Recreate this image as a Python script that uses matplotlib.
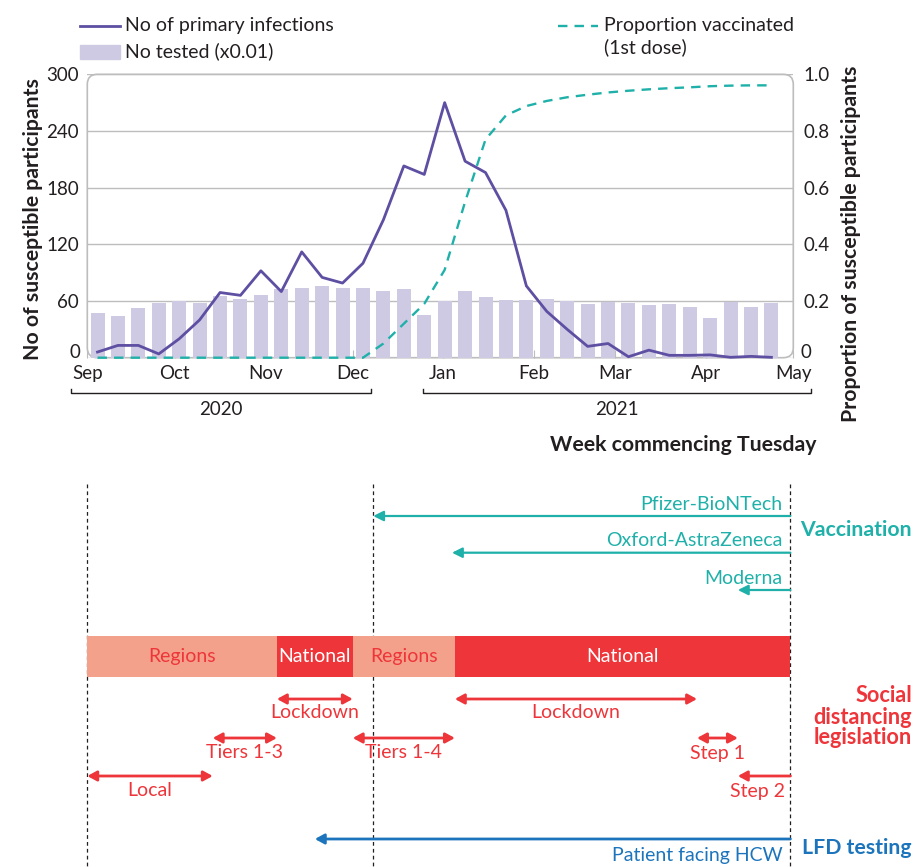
import numpy as np
import pandas as pd
import matplotlib
matplotlib.use('Agg')
import matplotlib.pyplot as plt
import matplotlib.dates as mdates
import matplotlib.transforms as mtransforms
from matplotlib.patches import FancyBboxPatch, Rectangle
from matplotlib.lines import Line2D

plt.rcParams['font.family'] = ['Lato', 'DejaVu Sans']

# ---------------- data ----------------
week_start = pd.date_range('2020-09-01', periods=34, freq='7D')   # weeks commencing Tuesday
no_tested_x001 = [47, 44, 53, 58, 60, 58, 65, 62, 66, 73, 74, 76, 74, 74, 71, 73, 45,
                  60, 71, 64, 61, 61, 62, 60, 57, 59, 58, 56, 57, 54, 42, 59, 54, 58]
primary_infections = [6, 13, 13, 4, 20, 40, 69, 66, 92, 70, 112, 85, 79, 100, 146, 203, 194,
                      270, 208, 196, 156, 76, 49, 30, 12, 15, 1, 8, 2.5, 2.5, 3, 0.4, 1.4, 0.4]
prop_vaccinated = [0, 0, 0, 0, 0, 0, 0, 0, 0, 0, 0, 0, 0,
                   0, 0.05, 0.12, 0.19, 0.31, 0.55, 0.77, 0.855, 0.888, 0.906, 0.919,
                   0.928, 0.936, 0.942, 0.947, 0.951, 0.954, 0.958, 0.96, 0.961, 0.961]

month_ticks = ['2020-09-01', '2020-10-01', '2020-11-01', '2020-12-01', '2021-01-01',
               '2021-02-01', '2021-03-01', '2021-04-01', '2021-05-01']
month_labels = ['Sep', 'Oct', 'Nov', 'Dec', 'Jan', 'Feb', 'Mar', 'Apr', 'May']
left_ticks = [0, 60, 120, 180, 240, 300]
right_ticks = [0, 0.2, 0.4, 0.6, 0.8, 1.0]
right_labels = ['0', '0.2', '0.4', '0.6', '0.8', '1.0']
year_labels = ['2020', '2021']

study_start = '2020-09-01'
first_vaccine = '2020-12-08'
study_end = '2021-04-30'

vacc_names = ['Pfizer-BioNTech', 'Oxford-AstraZeneca', 'Moderna']
vacc_start = ['2020-12-08', '2021-01-04', '2021-04-12']

band_labels = ['Regions', 'National', 'Regions', 'National']
band_start = ['2020-09-01', '2020-11-05', '2020-12-01', '2021-01-05']
band_end = ['2020-11-05', '2020-12-01', '2021-01-05', '2021-04-30']

sd_labels = ['Lockdown', 'Lockdown', 'Tiers 1-3', 'Tiers 1-4', 'Step 1', 'Local', 'Step 2']
sd_start = ['2020-11-05', '2021-01-05', '2020-10-14', '2020-12-01', '2021-03-29', '2020-09-01', '2021-04-12']
sd_end = ['2020-12-01', '2021-03-29', '2020-11-05', '2021-01-05', '2021-04-12', '2020-10-14', '2021-04-30']
sd_row = [0, 0, 1, 1, 1, 2, 2]

lfd_label = 'Patient facing HCW'
lfd_start = '2020-11-18'

# ---------------- styles / layout ----------------
W, H = 914, 867
PURPLE = '#5E4FA2'
LAV = '#CECAE4'
TEAL = '#1FB1A9'
RED = '#EE353A'
SALMON = '#F4A18B'
BLUE = '#1C75BC'
GRID = '#BDBDBD'
TXT = '#231F20'
FS = 14        # regular text
FT = 13.5      # tick labels
FB = 15.3      # bold titles


def fx(p):
    return p / W


def fy(p):
    return 1 - p / H


num = mdates.date2num
def d(s):
    return num(pd.Timestamp(s))

fig = plt.figure(figsize=(W / 100, H / 100), dpi=100)

L, R, T, B = 87.3, 793.3, 74.3, 357.7
ax = fig.add_axes([fx(L), fy(B), (R - L) / W, (B - T) / H])
xc = num(week_start) + 3.5
ax.bar(xc, no_tested_x001, width=4.8, color=LAV, zorder=2)
ax.plot(xc, primary_infections, color=PURPLE, lw=2.0, zorder=4, clip_on=False)
ax.set_xlim(d('2020-09-01'), d('2021-05-01'))
ax.set_ylim(0, 300)
for s in ax.spines.values():
    s.set_visible(False)
ax.set_yticks(left_ticks)
ax.set_yticklabels(['' if v == 0 else str(v) for v in left_ticks])
ax.tick_params(axis='y', length=0, pad=6, labelsize=FT, labelcolor=TXT)
ax.set_xticks([d(m) for m in month_ticks])
ax.set_xticklabels(month_labels)
ax.tick_params(axis='x', direction='in', length=6, color=GRID, pad=5, labelsize=FT, labelcolor=TXT)
ax.grid(axis='y', color=GRID, lw=1)
ax.set_axisbelow(True)

# rounded frame (under the data)
frame = FancyBboxPatch((fx(L), fy(B)), (R - L) / W, (B - T) / H,
                       boxstyle='round,pad=0,rounding_size=%f' % (10 / W),
                       mutation_aspect=W / H, transform=fig.transFigure,
                       ec=GRID, fc='none', lw=1.2, zorder=1.5, clip_on=False)
ax.add_artist(frame)

ax2 = ax.twinx()
ax2.plot(xc, prop_vaccinated, color=TEAL, lw=1.7, dashes=(4, 3), zorder=3, clip_on=False)
ax2.set_ylim(0, 1)
for s in ax2.spines.values():
    s.set_visible(False)
ax2.set_yticks(right_ticks)
ax2.set_yticklabels(['' if v == '0' else v for v in right_labels])
ax2.tick_params(axis='y', length=0, pad=7, labelsize=FT, labelcolor=TXT)

# the two zero labels sit slightly higher in the original
fig.text(fx(80.5), fy(353), '0', ha='right', va='center', fontsize=FT, color=TXT)
fig.text(fx(800.5), fy(352.5), '0', ha='left', va='center', fontsize=FT, color=TXT)

# axis titles
fig.text(fx(33), fy(219), 'No of susceptible participants', rotation=90, ha='center', va='center',
         fontsize=FB, fontweight='bold', color=TXT)
fig.text(fx(851), fy(244), 'Proportion of susceptible participants', rotation=90, ha='center',
         va='center', fontsize=FB, fontweight='bold', color=TXT)

# legend
fig.add_artist(Line2D([fx(80), fx(120)], [fy(26), fy(26)], color=PURPLE, lw=2, transform=fig.transFigure))
fig.add_artist(Rectangle((fx(80), fy(59)), 40 / W, 14 / H, color=LAV, transform=fig.transFigure))
fig.text(fx(125), fy(26), 'No of primary infections', va='center', ha='left', fontsize=FS, color=TXT)
fig.text(fx(125), fy(51), 'No tested (x0.01)', va='center', ha='left', fontsize=FS, color=TXT)
fig.add_artist(Line2D([fx(558), fx(598)], [fy(26), fy(26)], color=TEAL, lw=1.7, dashes=(4, 3),
                      transform=fig.transFigure))
fig.text(fx(604), fy(26), 'Proportion vaccinated', va='center', ha='left', fontsize=FS, color=TXT)
fig.text(fx(604), fy(47), '(1st dose)', va='center', ha='left', fontsize=FS, color=TXT)

# year brackets
for (x0, x1, xt), lab in zip([(71, 371, 221), (423, 811, 617)], year_labels):
    fig.add_artist(Line2D([fx(x0), fx(x0), fx(x1), fx(x1)], [fy(389), fy(393), fy(393), fy(389)],
                          color=TXT, lw=1, transform=fig.transFigure))
    fig.text(fx(xt), fy(409), lab, ha='center', va='center', fontsize=FT, color=TXT)
fig.text(fx(816), fy(445), 'Week commencing Tuesday', ha='right', va='center', fontsize=FB,
         fontweight='bold', color=TXT)

# ---------------- bottom timeline ----------------
axb = fig.add_axes([fx(L), 0, (R - L) / W, 387 / H])
axb.set_xlim(d('2020-09-01'), d('2021-05-01'))
axb.set_ylim(867, 480)
axb.axis('off')

axb.vlines([d(study_start), d(first_vaccine), d(study_end)], 484, 867, colors=TXT, lw=0.9,
           linestyles=(0, (3, 2.5)), zorder=1, clip_on=False)

right_lab = mtransforms.blended_transform_factory(fig.transFigure, axb.transData)
left_off = mtransforms.offset_copy(axb.transData, fig=fig, x=-8, y=0, units='dots')

# vaccination
vacc_arrow_y = [516, 552.7, 590]
vacc_text_y = [504, 541, 578]
for name, st, ya, yt in zip(vacc_names, vacc_start, vacc_arrow_y, vacc_text_y):
    axb.annotate('', xy=(d(st), ya), xytext=(d(study_end), ya),
                 arrowprops=dict(arrowstyle='-|>,head_length=0.6,head_width=0.3', color=TEAL, lw=1.6,
                                 shrinkA=0, shrinkB=0, mutation_scale=10), annotation_clip=False)
    axb.text(d(study_end), yt, name, transform=left_off, ha='right', va='center', fontsize=FS, color=TEAL)
axb.text(912 / W, 530, 'Vaccination', transform=right_lab, ha='right', va='center', fontsize=FB,
         fontweight='bold', color=TEAL)

# social distancing band
for lab, s, e in zip(band_labels, band_start, band_end):
    national = lab == 'National'
    axb.barh(656.5, d(e) - d(s), left=d(s), height=41, color=RED if national else SALMON, zorder=2)
    axb.text((d(s) + d(e)) / 2, 656.5, lab, ha='center', va='center', fontsize=FS,
             color='white' if national else RED, zorder=3)

row_arrow_y = [699, 738, 776]
row_text_y = [713, 753, 791]
for lab, s, e, r in zip(sd_labels, sd_start, sd_end, sd_row):
    ya, yt = row_arrow_y[r], row_text_y[r]
    single = d(e) >= d(study_end)
    style = '-|>' if single else '<|-|>'
    axb.annotate('', xy=(d(s), ya), xytext=(d(e), ya),
                 arrowprops=dict(arrowstyle=style + ',head_length=0.55,head_width=0.3', color=RED, lw=2,
                                 shrinkA=0, shrinkB=0, mutation_scale=10), annotation_clip=False)
    if single:
        axb.text(d(e), yt, lab, transform=mtransforms.offset_copy(axb.transData, fig=fig, x=-5, y=0, units='dots'),
                 ha='right', va='center', fontsize=FS, color=RED)
    else:
        axb.text((d(s) + d(e)) / 2, yt, lab, ha='center', va='center', fontsize=FS, color=RED)

for txt, yy in zip(['Social', 'distancing', 'legislation'], [696, 717, 737]):
    axb.text(912 / W, yy, txt, transform=right_lab, ha='right', va='center', fontsize=FB + 0.4,
             fontweight='bold', color=RED)

# LFD testing
axb.annotate('', xy=(d(lfd_start), 839), xytext=(d(study_end), 839),
             arrowprops=dict(arrowstyle='-|>,head_length=0.55,head_width=0.3', color=BLUE, lw=2,
                             shrinkA=0, shrinkB=0, mutation_scale=10), annotation_clip=False)
axb.text(d(study_end), 856, lfd_label, transform=left_off, ha='right', va='center', fontsize=FS, color=BLUE)
axb.text(912 / W, 848, 'LFD testing', transform=right_lab, ha='right', va='center', fontsize=FB,
         fontweight='bold', color=BLUE)

fig.savefig('out.png', dpi=100)
